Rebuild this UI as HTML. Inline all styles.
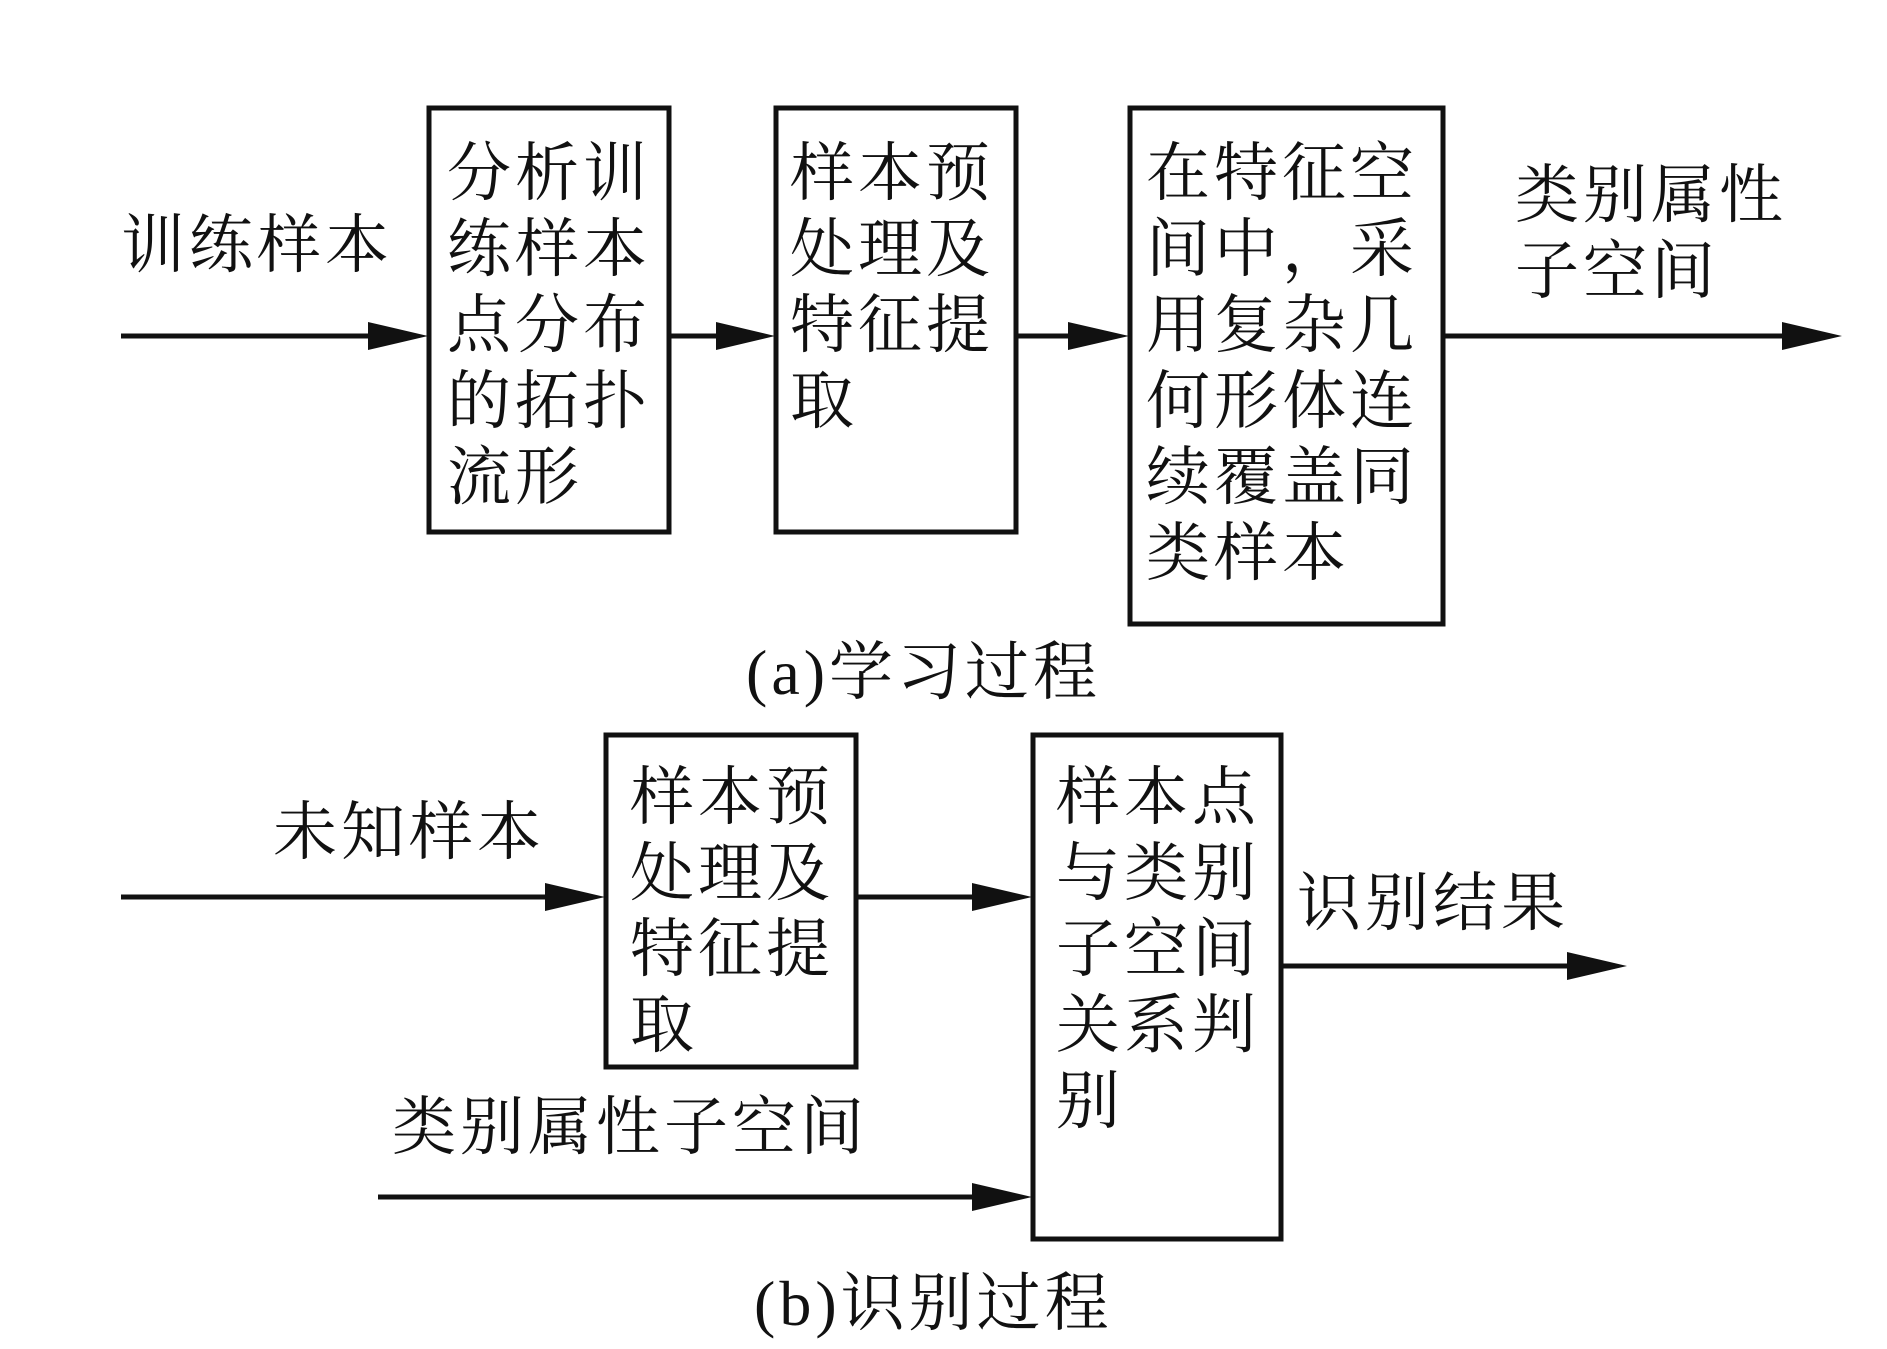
<!DOCTYPE html>
<html><head><meta charset="utf-8"><style>
body{margin:0;background:#fff;}
#c{position:relative;width:1887px;height:1349px;overflow:hidden;background:#fff;}
.t{position:absolute;font-family:"Liberation Serif","Noto Serif CJK SC",serif;font-size:64px;line-height:76px;color:#111;white-space:nowrap;letter-spacing:4px;}
</style></head><body><div id="c">
<svg width="1887" height="1349" style="position:absolute;left:0;top:0">
<defs><marker id="a" markerWidth="16" markerHeight="10" refX="15" refY="5" orient="auto" markerUnits="userSpaceOnUse" viewBox="0 0 16 10"><path d="M0,0 L16,5 L0,10 Z" fill="#111"/></marker></defs>
<g fill="none" stroke="#111" stroke-width="5">
<rect x="429" y="108" width="240" height="424"/>
<rect x="776" y="108" width="240" height="424"/>
<rect x="1130" y="108" width="313" height="516"/>
<rect x="606" y="735" width="250" height="332"/>
<rect x="1033" y="735" width="248" height="504"/>
</g>
<g stroke="#111" stroke-width="5">
<line x1="121" y1="336" x2="370" y2="336"/>
<line x1="669" y1="336" x2="720" y2="336"/>
<line x1="1016" y1="336" x2="1070" y2="336"/>
<line x1="1443" y1="336" x2="1785" y2="336"/>
<line x1="121" y1="897" x2="548" y2="897"/>
<line x1="856" y1="897" x2="975" y2="897"/>
<line x1="1281" y1="966" x2="1570" y2="966"/>
<line x1="378" y1="1197" x2="975" y2="1197"/>
</g>
<g fill="#111">
<path d="M368,322 L428,336 L368,350 Z"/>
<path d="M716,322 L775,336 L716,350 Z"/>
<path d="M1068,322 L1129,336 L1068,350 Z"/>
<path d="M1782,322 L1842,336 L1782,350 Z"/>
<path d="M545,883 L605,897 L545,911 Z"/>
<path d="M972,883 L1032,897 L972,911 Z"/>
<path d="M1567,952 L1627,966 L1567,980 Z"/>
<path d="M972,1183 L1032,1197 L972,1211 Z"/>
</g>
</svg>
<div class="t" style="left:121px;top:208px">训练样本</div>
<div class="t" style="left:447px;top:136px">分析训<br>练样本<br>点分布<br>的拓扑<br>流形</div>
<div class="t" style="left:790px;top:136px">样本预<br>处理及<br>特征提<br>取</div>
<div class="t" style="left:1146px;top:136px">在特征空<br>间中，采<br>用复杂几<br>何形体连<br>续覆盖同<br>类样本</div>
<div class="t" style="left:1515px;top:158px">类别属性<br>子空间</div>
<div class="t" style="left:746px;top:635px">(a)学习过程</div>
<div class="t" style="left:273px;top:795px">未知样本</div>
<div class="t" style="left:630px;top:760px">样本预<br>处理及<br>特征提<br>取</div>
<div class="t" style="left:1056px;top:760px">样本点<br>与类别<br>子空间<br>关系判<br>别</div>
<div class="t" style="left:1297px;top:866px">识别结果</div>
<div class="t" style="left:392px;top:1090px">类别属性子空间</div>
<div class="t" style="left:754px;top:1266px">(b)识别过程</div>
</div></body></html>
